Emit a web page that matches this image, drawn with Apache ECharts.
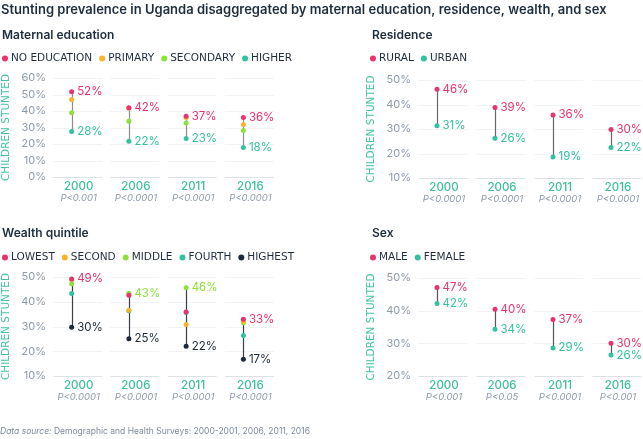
<!DOCTYPE html>
<html>
<head>
<meta charset="utf-8">
<script src="https://cdn.jsdelivr.net/npm/echarts@6/dist/echarts.min.js"></script>
<style>
html,body{margin:0;padding:0;background:#fff;}
#c{width:643px;height:439px;}
</style>
</head>
<body>
<div id="c"></div>
<script>
// ---------- DATA ----------
const years = ['2000', '2006', '2011', '2016'];

// Maternal education
const eduTicks = [0, 10, 20, 30, 40, 50, 60];
const eduP = ['P<0.001', 'P<0.0001', 'P<0.0001', 'P<0.0001'];
const noEducation = [51.7, 42.0, 36.8, 36.0];
const primary = [46.9, 41.7, 36.0, 31.8];
const secondary = [39.0, 33.8, 32.8, 28.2];
const higher = [27.6, 21.6, 23.3, 17.9];

// Residence
const resTicks = [10, 20, 30, 40, 50];
const resP = ['P<0.0001', 'P<0.0001', 'P<0.0001', 'P<0.0001'];
const rural = [46.2, 38.8, 35.7, 29.8];
const urban = [31.3, 26.2, 18.6, 22.4];

// Wealth quintile
const wealthTicks = [10, 20, 30, 40, 50];
const wealthP = ['P<0.0001', 'P<0.0001', 'P<0.0001', 'P<0.0001'];
const lowest = [49.2, 42.6, 35.9, 32.9];
const second = [49.0, 36.6, 30.8, 32.0];
const middle = [47.3, 43.4, 45.7, 31.5];
const fourth = [43.3, 36.4, 35.7, 26.4];
const highest = [29.7, 25.1, 22.0, 16.8];

// Sex
const sexTicks = [20, 30, 40, 50];
const sexP = ['P<0.001', 'P<0.05', 'P<0.0001', 'P<0.001'];
const male = [47.1, 40.4, 37.3, 30.0];
const female = [42.2, 34.3, 28.6, 26.4];

// ---------- STYLE ----------
const FONT = 'Inter, "Noto Sans", sans-serif';
const LFONT = '"DejaVu Sans", Inter, sans-serif';
const PINK = '#e8336d', YELLOW = '#f7b52c', GREEN = '#8ee03a', TEAL = '#33c29f', NAVY = '#1c2a39';
const OFF = 6, HALF = 24.5;

const panels = [
  { title: 'Maternal education', tPos: {left: 2, top: 29}, lPos: {left: 2, top: 53},
    grid: {left: 38, top: 78, width: 234, height: 99}, ticks: eduTicks, pvals: eduP, lineColor: '#8d8d8d',
    groups: [['NO EDUCATION', noEducation, PINK], ['PRIMARY', primary, YELLOW], ['SECONDARY', secondary, GREEN], ['HIGHER', higher, TEAL]] },
  { title: 'Residence', tPos: {left: 372, top: 29}, lPos: {left: 370, top: 53},
    grid: {left: 408, top: 80, width: 232, height: 98}, ticks: resTicks, pvals: resP, lineColor: '#666',
    groups: [['RURAL', rural, PINK], ['URBAN', urban, TEAL]] },
  { title: 'Wealth quintile', tPos: {left: 2, top: 227}, lPos: {left: 2, top: 252},
    grid: {left: 38, top: 277, width: 234, height: 99}, ticks: wealthTicks, pvals: wealthP, lineColor: '#3a3f45',
    groups: [['LOWEST', lowest, PINK], ['SECOND', second, YELLOW], ['MIDDLE', middle, GREEN], ['FOURTH', fourth, TEAL], ['HIGHEST', highest, NAVY]] },
  { title: 'Sex', tPos: {left: 372, top: 227}, lPos: {left: 370, top: 252},
    grid: {left: 408, top: 278, width: 232, height: 98}, ticks: sexTicks, pvals: sexP, lineColor: '#555',
    groups: [['MALE', male, PINK], ['FEMALE', female, TEAL]] }
];

const option = {
  animation: false,
  backgroundColor: '#fff',
  title: [
    { text: 'Stunting prevalence in Uganda disaggregated by maternal education, residence, wealth, and sex',
      left: 1, top: 4, padding: 0,
      textStyle: {fontFamily: FONT, fontSize: 13, fontWeight: 600, color: '#1e2d3d'} },
    { text: '{i|Data source:}{n| Demographic and Health Surveys: 2000-2001, 2006, 2011, 2016}',
      left: 0, top: 427, padding: 0,
      textStyle: {fontWeight: 'normal', fontSize: 8.5, rich: {
        i: {fontFamily: FONT, fontSize: 8.5, fontStyle: 'italic', fontWeight: 'normal', color: '#7d8b9b'},
        n: {fontFamily: FONT, fontSize: 8.5, fontWeight: 'normal', color: '#7d8b9b'} }} }
  ],
  legend: [], grid: [], xAxis: [], yAxis: [], series: []
};

panels.forEach((pn, k) => {
  option.title.push({ text: pn.title, left: pn.tPos.left, top: pn.tPos.top, padding: 0,
    textStyle: {fontFamily: FONT, fontSize: 12, fontWeight: 600, color: '#1e2d3d'} });
  option.legend.push({ data: pn.groups.map(g => g[0]), left: pn.lPos.left, top: pn.lPos.top, padding: 0,
    icon: 'circle', itemWidth: 6, itemHeight: 6, itemGap: 7, selectedMode: false,
    textStyle: {fontFamily: LFONT, fontSize: 10.5, fontWeight: 'normal', color: '#1e2d3d', padding: [0, 0, 0, -2]} });
  option.grid.push(Object.assign({containLabel: false}, pn.grid));
  const pv = pn.pvals;
  option.xAxis.push({ type: 'category', gridIndex: k, data: years, boundaryGap: true,
    axisLine: {show: false}, axisTick: {show: false}, splitLine: {show: false},
    axisLabel: { margin: 3, padding: [0, 0, 0, 14], interval: 0,
      formatter: (v, i) => '{a|' + v + '}\n{b|' + pv[i] + '}',
      rich: { a: {fontFamily: FONT, fontSize: 11.5, fontWeight: 500, color: '#3dbf9c', lineHeight: 13, align: 'center'},
              b: {fontFamily: FONT, fontSize: 9.5, fontStyle: 'italic', color: '#8e9aa8', lineHeight: 11, align: 'center'} } } });
  const tmin = pn.ticks[0], tmax = pn.ticks[pn.ticks.length - 1];
  option.yAxis.push({ type: 'value', gridIndex: k, min: tmin, max: tmax, interval: 10,
    name: 'CHILDREN STUNTED', nameLocation: 'middle', nameGap: 31, nameRotate: 90,
    nameTextStyle: {fontFamily: LFONT, fontSize: 10.5, fontWeight: 'normal', color: '#45c3a4'},
    axisLine: {show: false}, axisTick: {show: false}, splitLine: {show: false},
    axisLabel: {margin: -3, formatter: '{value}%', fontFamily: FONT, fontSize: 11, color: '#8e9bab'} });

  // segmented grid lines
  const gdata = [];
  years.forEach((y, i) => pn.ticks.forEach(t => gdata.push([i, t, t === tmin ? 1 : 0])));
  option.series.push({ type: 'custom', xAxisIndex: k, yAxisIndex: k, z: 1, silent: true, clip: false,
    data: gdata,
    renderItem: (params, api) => {
      const p = api.coord([api.value(0), api.value(1)]);
      const yy = Math.round(p[1]) + 0.5;
      return { type: 'line', shape: {x1: p[0] + OFF - HALF, y1: yy, x2: p[0] + OFF + HALF, y2: yy},
        style: {stroke: api.value(2) ? '#dde2e7' : '#f1f3f5', lineWidth: 1} };
    } });

  // connecting min-max lines
  const cdata = years.map((y, i) => {
    const vals = pn.groups.map(g => g[1][i]);
    return [i, Math.min(...vals), Math.max(...vals)];
  });
  const lc = pn.lineColor;
  option.series.push({ type: 'custom', xAxisIndex: k, yAxisIndex: k, z: 2, silent: true,
    data: cdata,
    renderItem: (params, api) => {
      const a = api.coord([api.value(0), api.value(1)]);
      const b = api.coord([api.value(0), api.value(2)]);
      const x = Math.round(a[0]) + 0.5;
      return { type: 'line', shape: {x1: x, y1: a[1], x2: x, y2: b[1]},
        style: {stroke: lc, lineWidth: 1.2} };
    } });

  // dots
  pn.groups.forEach((g, gi) => {
    const data = g[1].map((v, i) => {
      const c = cdata[i];
      const show = (v === c[1] || v === c[2]);
      return { value: [i, v], label: {show: show} };
    });
    option.series.push({ type: 'scatter', name: g[0], xAxisIndex: k, yAxisIndex: k, z: 10 - gi,
      symbol: 'circle', symbolSize: 5, itemStyle: {color: g[2], opacity: 1},
      data: data,
      label: { position: 'right', distance: 3, color: g[2], fontFamily: FONT, fontSize: 11.5,
        formatter: p => Math.round(p.value[1]) + '%' } });
  });
});

const chart = echarts.init(document.getElementById('c'), null, {renderer: 'canvas'});
chart.setOption(option);
</script>
</body>
</html>
